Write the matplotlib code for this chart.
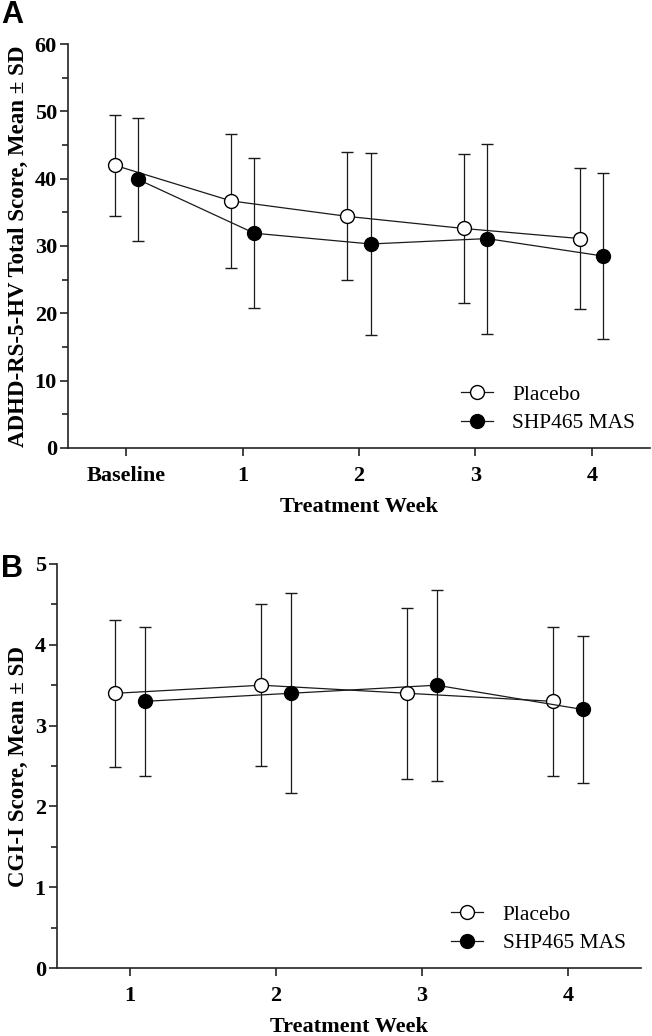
import matplotlib
matplotlib.use("Agg")
import matplotlib.pyplot as plt
from matplotlib.lines import Line2D
import numpy as np

# panel A: ADHD-RS-5-HV total score
weeks_a = ["Baseline", "1", "2", "3", "4"]
placebo_a_mean = [42.0, 36.7, 34.4, 32.6, 31.1]
placebo_a_sd = [7.5, 10.0, 9.5, 11.1, 10.5]
shp_a_mean = [39.9, 31.9, 30.3, 31.1, 28.5]
shp_a_sd = [9.1, 11.1, 13.5, 14.1, 12.3]

# panel B: CGI-I score
weeks_b = ["1", "2", "3", "4"]
placebo_b_mean = [3.4, 3.5, 3.4, 3.3]
placebo_b_sd = [0.91, 1.0, 1.06, 0.92]
shp_b_mean = [3.3, 3.4, 3.5, 3.2]
shp_b_sd = [0.92, 1.24, 1.18, 0.91]

labels = ["Placebo", "SHP465 MAS"]
faces = ["white", "black"]

SERIF = "Liberation Serif"
OFFSET = 0.1
LINE = "#1a1a1a"


def draw_series(ax, x, mean, sd, face):
    ax.errorbar(x, mean, yerr=sd, fmt="-o", color=LINE, lw=0.9,
                elinewidth=0.9, capsize=4.5, capthick=0.9,
                markersize=10, markerfacecolor=face,
                markeredgecolor="black", markeredgewidth=1.0, zorder=3)


def add_legend(ax):
    handles = [Line2D([], [], color=LINE, lw=0.9, marker="o", markersize=10,
                      markerfacecolor=f, markeredgecolor="black",
                      markeredgewidth=1.0) for f in faces]
    ax.legend(handles, labels, loc="lower left", bbox_to_anchor=(0.66, 0.015),
              frameon=False, prop={"family": SERIF, "size": 15.5},
              handlelength=1.5, handletextpad=0.9, labelspacing=0.4,
              borderaxespad=0)


def style_axes(ax, ymax, major, minor):
    for s in ["top", "right"]:
        ax.spines[s].set_visible(False)
    for s in ["left", "bottom"]:
        ax.spines[s].set_linewidth(1.2)
        ax.spines[s].set_color("#222222")
    ax.set_ylim(0, ymax)
    ax.set_yticks(np.arange(0, ymax + major / 2, major))
    ax.set_yticks(np.arange(0, ymax, minor), minor=True)
    ax.tick_params(axis="both", which="major", direction="out", length=6,
                   width=1.2, color="#222222", labelsize=16)
    ax.tick_params(axis="y", which="minor", direction="out", length=4,
                   width=1.2, color="#222222")
    ax.tick_params(axis="y", pad=2)
    ax.tick_params(axis="x", pad=7)
    for lab in ax.get_xticklabels() + ax.get_yticklabels():
        lab.set_fontfamily(SERIF)
        lab.set_fontweight("bold")


fig = plt.figure(figsize=(6.52, 10.36), dpi=100)

# ---- panel A
axA = fig.add_axes([0.1043, 0.5676, 0.8927, 0.3899])
xa = np.arange(len(weeks_a))
draw_series(axA, xa - OFFSET, placebo_a_mean, placebo_a_sd, faces[0])
draw_series(axA, xa + OFFSET, shp_a_mean, shp_a_sd, faces[1])
axA.set_xlim(-0.5, 4.5)
axA.set_xticks(xa)
axA.set_xticklabels(weeks_a)
style_axes(axA, 60, 10, 5)
axA.set_xlabel("Treatment Week", fontfamily=SERIF, fontweight="bold",
               fontsize=16, labelpad=8)
axA.set_ylabel("ADHD-RS-5-HV Total Score, Mean \u00b1 SD", fontfamily=SERIF,
               fontweight="bold", fontsize=16.5, labelpad=4)
add_legend(axA)

# ---- panel B
axB = fig.add_axes([0.0874, 0.0656, 0.8957, 0.3900])
xb = np.arange(1, len(weeks_b) + 1)
draw_series(axB, xb - OFFSET, placebo_b_mean, placebo_b_sd, faces[0])
draw_series(axB, xb + OFFSET, shp_b_mean, shp_b_sd, faces[1])
axB.set_xlim(0.5, 4.5)
axB.set_xticks(xb)
axB.set_xticklabels(weeks_b)
style_axes(axB, 5, 1, 0.5)
axB.set_xlabel("Treatment Week", fontfamily=SERIF, fontweight="bold",
               fontsize=16, labelpad=8)
axB.set_ylabel("CGI-I Score, Mean \u00b1 SD", fontfamily=SERIF,
               fontweight="bold", fontsize=16.5, labelpad=4)
add_legend(axB)

# panel letters
fig.text(0.002, 1.0, "A", fontfamily="Liberation Sans", fontweight="bold",
         fontsize=22, va="top", ha="left")
fig.text(0.002, 0.465, "B", fontfamily="Liberation Sans", fontweight="bold",
         fontsize=22, va="top", ha="left")

fig.savefig("out.png", dpi=100)
